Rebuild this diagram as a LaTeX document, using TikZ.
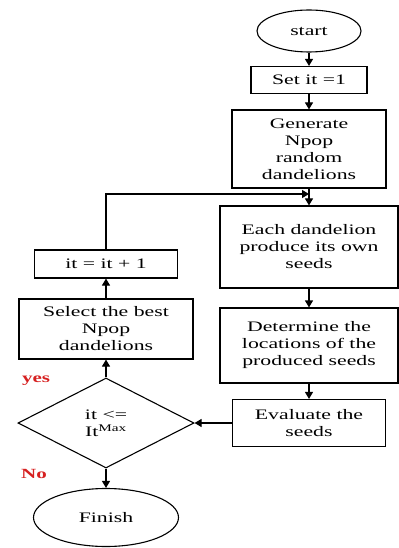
\documentclass[tikz,border=0pt]{standalone}
\usepackage{fontspec}
\setmainfont{Liberation Serif}[FakeStretch=1.5]
\usepackage{xcolor}
\definecolor{ansred}{RGB}{214,32,32}
\usetikzlibrary{shapes.geometric,arrows.meta}

\begin{document}
\begin{tikzpicture}[x=1bp, y=-1bp, line width=1.1bp,
    font=\fontsize{14.5bp}{17bp}\selectfont,
    box/.style={rectangle, draw, align=center, inner sep=2bp},
    term/.style={ellipse, draw, inner sep=0bp},
    cond/.style={diamond, draw, align=center, inner sep=0bp},
    arr/.style={-{Triangle[length=7bp,width=8bp]}},
    lbl/.style={text=ansred, font=\fontsize{14bp}{16bp}\selectfont\bfseries}]
    \useasboundingbox (0,0) rectangle (398,548);
    % right column
    \node[term, minimum width=104bp, minimum height=42bp] (start) at (309,31) {start};
    \node[box, minimum width=116bp, minimum height=27bp] (set) at (309,80) {Set it =1};
    \node[box, minimum width=154bp, minimum height=78bp] (gen) at (309,149) {Generate\\Npop\\random\\dandelions};
    \node[box, minimum width=178bp, minimum height=82bp] (each) at (309,247) {Each dandelion\\produce its own\\seeds};
    \node[box, minimum width=178bp, minimum height=75bp] (det) at (309,345.5) {Determine the\\locations of the\\produced seeds};
    \node[box, minimum width=153bp, minimum height=47bp] (eval) at (309,423) {Evaluate the\\seeds};
    % left column
    \node[cond, minimum width=176bp, minimum height=90bp] (test) at (106,423) {it <=\\It\textsuperscript{Max}};
    \node[box, minimum width=174bp, minimum height=60bp] (sel) at (106,329) {Select the best\\Npop\\dandelions};
    \node[box, minimum width=143bp, minimum height=28bp] (inc) at (106,264) {it = it + 1};
    \node[term, minimum width=145bp, minimum height=58bp] (fin) at (106,517.5) {Finish};
    \coordinate (join) at (309,194);
    % labels
    \node[lbl] (yes) at (36,381) {yes};
    \node[lbl] (no) at (34,474) {No};
    % connectors
    \draw[arr] (start) -- (set);
    \draw[arr] (set) -- (gen);
    \draw[arr] (gen) -- (each);
    \draw[arr] (each) -- (det);
    \draw[arr] (det) -- (eval);
    \draw[arr] (eval) -- (test);
    \draw[arr] (test) -- (sel);
    \draw[arr] (sel) -- (inc);
    \draw[arr] (inc) |- (join);
    \draw[arr] (test) -- (fin);
\end{tikzpicture}
\end{document}
